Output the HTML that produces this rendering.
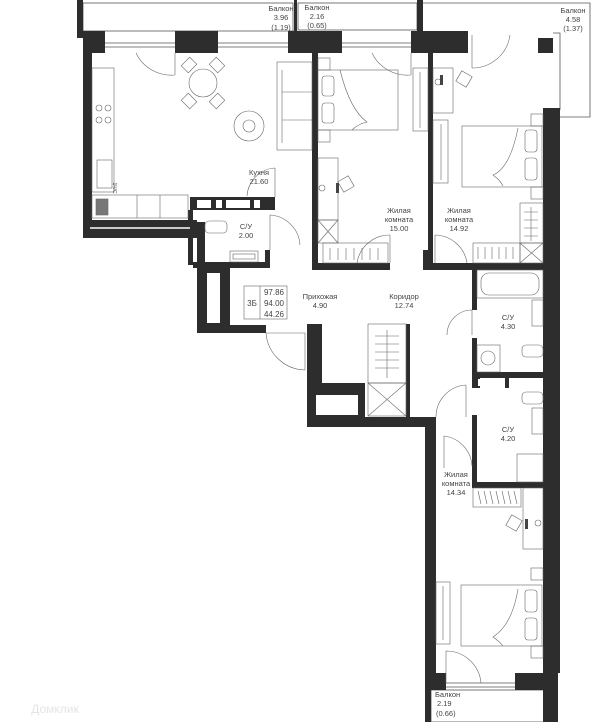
<!DOCTYPE html>
<html><head><meta charset="utf-8"><style>
html,body{margin:0;padding:0;background:#fff;}
svg{display:block;}
text{font-family:"Liberation Sans",sans-serif;font-size:7.5px;fill:#444;text-anchor:middle;}
</style></head><body>
<svg width="600" height="722" viewBox="0 0 600 722" xmlns="http://www.w3.org/2000/svg">
<g fill="none" stroke="#555" stroke-width="0.8">
  <rect x="83" y="3" width="210" height="28"/>
  <rect x="298" y="3" width="119" height="27"/>
  <path d="M423 3 H590 V117 H555"/>
  <path d="M553 33 H560 V110"/>
  <rect x="431" y="690" width="117" height="32"/>
  <path d="M105 43 H175 M105 47 H175 M218 43 H288 M218 47 H288 M342 43 H411 M342 47 H411 M446 683 H515 M446 687 H515"/>
</g>
<g fill="#2d2d2d">
  <rect x="77" y="0" width="6" height="38"/>
  <rect x="294" y="0" width="3" height="31"/>
  <rect x="417" y="0" width="6" height="31"/>
  <rect x="83" y="31" width="22" height="22"/>
  <rect x="175" y="31" width="43" height="22"/>
  <rect x="288" y="31" width="54" height="22"/>
  <rect x="411" y="31" width="57" height="22"/>
  <rect x="538" y="38" width="15" height="15"/>
  <rect x="83" y="31" width="9" height="207"/>
  <rect x="83" y="220" width="114" height="18"/>
  <rect x="190" y="197" width="85" height="13"/>
  <rect x="188" y="210" width="5" height="55"/>
  <rect x="197" y="222" width="8" height="111"/>
  <rect x="193" y="262" width="75" height="6"/>
  <rect x="265" y="197" width="5" height="13"/>
  <rect x="265" y="250" width="5" height="18"/>
  <rect x="205" y="265" width="25" height="60"/>
  <rect x="197" y="325" width="69" height="8"/>
  <rect x="312" y="53" width="6" height="217"/>
  <rect x="312" y="263" width="78" height="7"/>
  <rect x="423" y="250" width="9" height="20"/>
  <rect x="428" y="53" width="5" height="217"/>
  <rect x="433" y="263" width="40" height="7"/>
  <rect x="543" y="108" width="17" height="565"/>
  <rect x="543" y="673" width="15" height="49"/>
  <rect x="468" y="263" width="77" height="7"/>
  <rect x="472" y="270" width="5" height="40"/>
  <rect x="472" y="338" width="5" height="47"/>
  <rect x="472" y="372" width="71" height="6"/>
  <rect x="472" y="378" width="8" height="10"/>
  <rect x="505" y="378" width="4" height="10"/>
  <rect x="472" y="415" width="5" height="70"/>
  <rect x="472" y="482" width="71" height="6"/>
  <rect x="307" y="324" width="15" height="103"/>
  <rect x="307" y="383" width="58" height="44"/>
  <rect x="312" y="417" width="123" height="10"/>
  <rect x="406" y="324" width="4" height="93"/>
  <rect x="425" y="417" width="11" height="256"/>
  <rect x="425" y="673" width="21" height="17"/>
  <rect x="515" y="673" width="43" height="17"/>
  <rect x="425" y="690" width="6" height="32"/>
</g>
<g fill="#fff">
  <rect x="207" y="273" width="13" height="50"/>
  <rect x="316" y="395" width="42" height="20"/>
  <rect x="197" y="200" width="14" height="8"/><rect x="216" y="200" width="6" height="8"/><rect x="226" y="200" width="24" height="8"/><rect x="254" y="200" width="6" height="8"/>
  <rect x="478" y="379" width="25" height="7"/>
</g>
<g fill="none" stroke="#666" stroke-width="0.6">
  <line x1="90" y1="228" x2="190" y2="228" stroke="#fff" stroke-width="1.5"/>
  <rect x="92" y="68" width="22" height="124"/>
  <rect x="92" y="195" width="96" height="23"/>
  <line x1="137" y1="195" x2="137" y2="218"/><line x1="160" y1="195" x2="160" y2="218"/>
  <circle cx="99" cy="108" r="3"/><circle cx="108" cy="108" r="3"/><circle cx="99" cy="120" r="3"/><circle cx="108" cy="120" r="3"/>
  <rect x="97" y="160" width="15" height="28"/>
  <rect x="96" y="199" width="12" height="16" fill="#777"/>
  <circle cx="203" cy="83" r="14"/>
  <rect x="183" y="60" width="12" height="10" transform="rotate(-45 189 65)"/>
  <rect x="211" y="60" width="12" height="10" transform="rotate(45 217 65)"/>
  <rect x="183" y="96" width="12" height="10" transform="rotate(45 189 101)"/>
  <rect x="211" y="96" width="12" height="10" transform="rotate(-45 217 101)"/>
  <circle cx="249" cy="126" r="15"/><circle cx="249" cy="126" r="6"/>
  <rect x="277" y="62" width="35" height="88"/>
  <line x1="282" y1="70" x2="282" y2="143"/><line x1="282" y1="92" x2="312" y2="92"/><line x1="282" y1="120" x2="312" y2="120"/>
  <path d="M175 53 V75 M136 53 A39 39 0 0 0 175 75"/>
  <path d="M275 168 V197 M275 168 A30 30 0 0 0 247 196"/>
  <path d="M270 215 V250 M270 215 A32 32 0 0 1 300 245"/>
  <path d="M411 53 V75 M372 53 A39 39 0 0 0 411 75"/>
  <path d="M472 35 V68 M472 68 A38 38 0 0 0 510 35"/>
  <path d="M390 235 V263 M390 235 A33 33 0 0 0 357 263"/>
  <path d="M435 235 V263 M435 235 A33 33 0 0 1 467 263"/>
  <path d="M266 333 H305 V370 M266 333 A40 40 0 0 0 305 370"/>
  <path d="M472 310 V335 M472 310 A25 25 0 0 0 447 335"/>
  <path d="M466 385 V417 M466 385 A32 32 0 0 0 436 417"/>
  <path d="M444 436 V468 M444 436 A32 32 0 0 1 472 466"/>
  <path d="M446 651 V683 M446 651 A35 35 0 0 1 481 683"/>
  <rect x="318" y="70" width="80" height="60"/>
  <rect x="322" y="76" width="12" height="20" rx="3"/><rect x="322" y="103" width="12" height="20" rx="3"/>
  <path d="M340 70 Q350 110 367 122 Q358 124 352 130"/>
  <rect x="318" y="58" width="12" height="12"/><rect x="318" y="130" width="12" height="12"/>
  <rect x="413" y="68" width="15" height="63"/><line x1="420" y1="72" x2="420" y2="128"/>
  <rect x="318" y="158" width="20" height="62"/><circle cx="322" cy="188" r="3"/>
  <rect x="340" y="178" width="12" height="12" transform="rotate(-30 346 184)"/>
  <rect x="318" y="220" width="20" height="23"/><path d="M318 220 L338 243 M338 220 L318 243"/>
  <rect x="323" y="243" width="65" height="20"/>
  <path d="M330 248 v12 M338 248 v12 M346 248 v12 M354 248 v12 M362 248 v12 M370 248 v12 M378 248 v12"/>
  <rect x="433" y="68" width="20" height="45"/><circle cx="438" cy="82" r="3"/>
  <rect x="458" y="73" width="12" height="12" transform="rotate(30 464 79)"/>
  <rect x="433" y="120" width="15" height="63"/><line x1="441" y1="124" x2="441" y2="180"/>
  <rect x="462" y="126" width="80" height="61"/>
  <rect x="525" y="130" width="12" height="22" rx="3"/><rect x="525" y="158" width="12" height="22" rx="3"/>
  <path d="M518 128 Q510 168 493 175 Q500 180 503 186"/>
  <rect x="531" y="114" width="12" height="12"/><rect x="531" y="187" width="12" height="12"/>
  <rect x="520" y="203" width="23" height="40"/>
  <path d="M531 207 v34 M524 212 h14 M524 220 h14 M524 228 h14 M524 236 h14"/>
  <rect x="520" y="243" width="23" height="20"/><path d="M520 243 L543 263 M543 243 L520 263"/>
  <rect x="473" y="243" width="47" height="20"/>
  <path d="M478 247 v12 M485 247 v12 M492 247 v12 M499 247 v12 M506 247 v12 M513 247 v12"/>
  <rect x="205" y="221" width="22" height="12" rx="4"/>
  <rect x="230" y="251" width="28" height="11"/><rect x="233" y="254" width="22" height="5"/>
  <rect x="244" y="286" width="43" height="33"/><line x1="260" y1="286" x2="260" y2="319"/>
  <rect x="368" y="324" width="38" height="59"/>
  <path d="M387 330 V378 M375 336 h24 M375 344 h24 M375 352 h24 M375 360 h24 M375 368 h24"/>
  <rect x="368" y="383" width="38" height="33"/><path d="M368 383 L406 416 M406 383 L368 416"/>
  <rect x="477" y="270" width="66" height="28"/><rect x="481" y="273" width="58" height="22" rx="8"/>
  <rect x="532" y="300" width="11" height="26"/>
  <rect x="477" y="345" width="23" height="27"/><circle cx="488" cy="358" r="7"/>
  <rect x="522" y="345" width="21" height="12" rx="4"/>
  <rect x="522" y="392" width="21" height="12" rx="4"/>
  <rect x="532" y="408" width="11" height="26"/>
  <rect x="517" y="454" width="26" height="28"/>
  <rect x="473" y="488" width="48" height="19"/>
  <path d="M478 491 l3 13 M484 491 l3 13 M490 491 l3 13 M496 491 l3 13 M502 491 l3 13 M508 491 l3 13 M514 491 l3 13"/>
  <rect x="523" y="488" width="20" height="61"/><circle cx="538" cy="523" r="3"/>
  <rect x="508" y="517" width="12" height="12" transform="rotate(30 514 523)"/>
  <rect x="531" y="568" width="12" height="12"/><rect x="531" y="646" width="12" height="12"/>
  <rect x="461" y="585" width="81" height="61"/>
  <rect x="525" y="590" width="12" height="22" rx="3"/><rect x="525" y="618" width="12" height="22" rx="3"/>
  <path d="M518 589 Q512 625 493 637 Q500 642 503 646"/>
  <rect x="436" y="582" width="14" height="62"/><line x1="443" y1="586" x2="443" y2="640"/>
</g>
<g fill="#444">
  <rect x="525" y="519" width="3" height="10"/><rect x="336" y="183" width="3" height="10"/><rect x="440" y="75" width="3" height="10"/>
</g>
<text x="281" y="11">Балкон</text><text x="281" y="20">3.96</text><text x="281" y="30">(1.19)</text>
<text x="317" y="10">Балкон</text><text x="317" y="19">2.16</text><text x="317" y="28">(0.65)</text>
<text x="573" y="13">Балкон</text><text x="573" y="22">4.58</text><text x="573" y="31">(1.37)</text>
<text x="259" y="175">Кухня</text><text x="259" y="184">21.60</text>
<text x="246" y="229">С/У</text><text x="246" y="238">2.00</text>
<text x="399" y="213">Жилая</text><text x="399" y="222">комната</text><text x="399" y="231">15.00</text>
<text x="459" y="213">Жилая</text><text x="459" y="222">комната</text><text x="459" y="231">14.92</text>
<text x="320" y="299">Прихожая</text><text x="320" y="308">4.90</text>
<text x="404" y="299">Коридор</text><text x="404" y="308">12.74</text>
<text x="252" y="306" style="font-size:8px">3Б</text>
<text x="274" y="295" style="font-size:8px">97.86</text><text x="274" y="306" style="font-size:8px">94.00</text><text x="274" y="317" style="font-size:8px">44.26</text>
<text x="508" y="320">С/У</text><text x="508" y="329">4.30</text>
<text x="508" y="432">С/У</text><text x="508" y="441">4.20</text>
<text x="456" y="477">Жилая</text><text x="456" y="486">комната</text><text x="456" y="495">14.34</text>
<text x="435" y="697" style="text-anchor:start">Балкон</text><text x="437" y="706" style="text-anchor:start">2.19</text><text x="436" y="716" style="text-anchor:start">(0.66)</text>
<text x="110" y="201" style="font-size:5px" transform="rotate(90 118 196)">1Ч/С</text>
<text x="55" y="713" style="font-size:12px;fill:#e4e4e4">Домклик</text>
</svg>
</body></html>
